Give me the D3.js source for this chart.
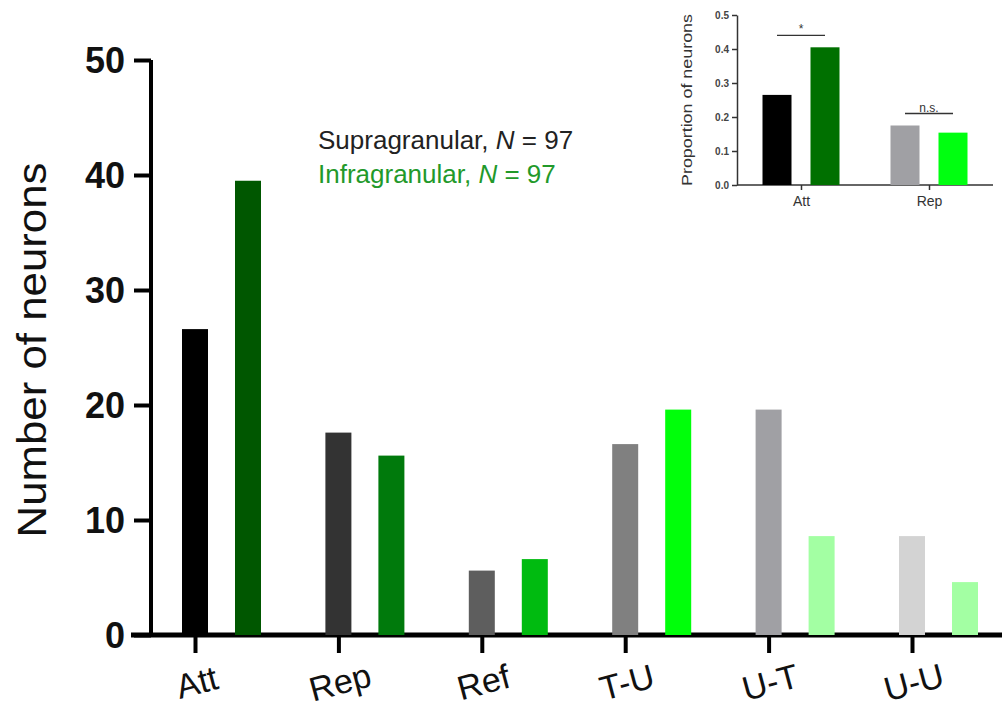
<!DOCTYPE html>
<html>
<head>
<meta charset="utf-8">
<script src="https://cdn.jsdelivr.net/npm/d3@7"></script>
<style>
body { margin: 0; background: #fff; }
svg { display: block; font-family: "Liberation Sans", Arial, sans-serif; }
</style>
</head>
<body>
<div id="chart"></div>
<script>
// main chart data (number of neurons per class)
var categories = ["Att", "Rep", "Ref", "T-U", "U-T", "U-U"]
var supraValues = [26.6, 17.6, 5.6, 16.6, 19.6, 8.6]
var infraValues = [39.5, 15.6, 6.6, 19.6, 8.6, 4.6]
var yTicks = [0, 10, 20, 30, 40, 50]
var supraColors = ["#000000", "#333333", "#5e5e5e", "#808080", "#a0a0a4", "#d3d3d3"]
var infraColors = ["#005700", "#007a0c", "#00bb10", "#00ff0a", "#a3ffa3", "#a3ffa3"]

// inset data (proportion of neurons)
var insetCategories = ["Att", "Rep"]
var insetSupra = [0.265, 0.175]
var insetInfra = [0.405, 0.154]
var insetTicks = [0.0, 0.1, 0.2, 0.3, 0.4, 0.5]
var insetSupraColors = ["#000000", "#a0a0a4"]
var insetInfraColors = ["#007000", "#00ff10"]
var insetMarks = ["*", "n.s."]

var width = 1002, height = 711
var svg = d3.select("#chart").append("svg").attr("width", width).attr("height", height)

// ---------- main chart ----------
var x = d3.scalePoint().domain(categories).range([195, 912])
var y = d3.scaleLinear().domain([0, 50]).range([635, 60])
var barW = 26, gap = 53

var yAxis = svg.append("g").attr("transform", "translate(151,0)")
	.call(d3.axisLeft(y).tickValues(yTicks).tickSize(17).tickPadding(9).tickSizeOuter(0))
yAxis.select(".domain").attr("stroke-width", 4).attr("d", "M0," + y(50) + "V" + y(0))
yAxis.selectAll(".tick line").attr("stroke-width", 4)
yAxis.selectAll(".tick text").style("font-size", "36px").style("font-weight", "bold")
	.attr("fill", "#111").attr("dy", "0.36em")

var xAxis = svg.append("g").attr("transform", "translate(0," + y(0) + ")")
	.call(d3.axisBottom(x).tickSize(18).tickFormat(""))
xAxis.select(".domain").remove()
xAxis.selectAll(".tick line").attr("stroke-width", 4)
svg.append("line").attr("x1", 131).attr("x2", width).attr("y1", y(0)).attr("y2", y(0))
	.attr("stroke", "#000").attr("stroke-width", 5)

categories.forEach(function(c, i) {
	svg.append("rect").attr("x", x(c) - barW / 2).attr("width", barW)
		.attr("y", y(supraValues[i])).attr("height", y(0) - y(supraValues[i]))
		.attr("fill", supraColors[i])
	svg.append("rect").attr("x", x(c) + gap - barW / 2).attr("width", barW)
		.attr("y", y(infraValues[i])).attr("height", y(0) - y(infraValues[i]))
		.attr("fill", infraColors[i])
	svg.append("text").text(c)
		.attr("x", x(c) + 2).attr("y", 694)
		.attr("text-anchor", "middle")
		.attr("transform", "rotate(-15," + (x(c) + 2) + ",683)")
		.style("font-size", "34px").attr("fill", "#111")
})

svg.append("text").text("Number of neurons")
	.attr("transform", "translate(46,350) rotate(-90)")
	.attr("text-anchor", "middle")
	.attr("textLength", 375).attr("lengthAdjust", "spacingAndGlyphs")
	.style("font-size", "40px").attr("fill", "#111")

// legend
var leg1 = svg.append("text").attr("x", 318).attr("y", 149).style("font-size", "26px").attr("fill", "#222")
leg1.append("tspan").text("Supragranular, ")
leg1.append("tspan").text("N").style("font-style", "italic")
leg1.append("tspan").text(" = 97")
var leg2 = svg.append("text").attr("x", 318).attr("y", 183).style("font-size", "26px").attr("fill", "#22992a")
leg2.append("tspan").text("Infragranular, ")
leg2.append("tspan").text("N").style("font-style", "italic")
leg2.append("tspan").text(" = 97")

// ---------- inset ----------
var ix = d3.scalePoint().domain(insetCategories).range([801, 929])
var iy = d3.scaleLinear().domain([0, 0.5]).range([185, 15])
var iBarW = 29, iOff = 24

var iyAxis = svg.append("g").attr("transform", "translate(737,0)")
	.call(d3.axisLeft(iy).tickValues(insetTicks).tickFormat(d3.format(".1f")).tickSize(5).tickPadding(3).tickSizeOuter(0))
iyAxis.select(".domain").attr("stroke-width", 1.5).attr("stroke", "#333")
iyAxis.selectAll(".tick line").attr("stroke-width", 1.5).attr("stroke", "#333")
iyAxis.selectAll(".tick text").style("font-size", "10px").style("font-weight", "bold").attr("fill", "#444")

var ixAxis = svg.append("g").attr("transform", "translate(0," + iy(0) + ")")
	.call(d3.axisBottom(ix).tickSize(5).tickPadding(6))
ixAxis.select(".domain").remove()
ixAxis.selectAll(".tick line").attr("stroke-width", 1.5).attr("stroke", "#333")
ixAxis.selectAll(".tick text").style("font-size", "14px").attr("fill", "#333")
svg.append("line").attr("x1", 737).attr("x2", 993).attr("y1", iy(0)).attr("y2", iy(0))
	.attr("stroke", "#333").attr("stroke-width", 1.5)

insetCategories.forEach(function(c, i) {
	svg.append("rect").attr("x", ix(c) - iOff - iBarW / 2).attr("width", iBarW)
		.attr("y", iy(insetSupra[i])).attr("height", iy(0) - iy(insetSupra[i]))
		.attr("fill", insetSupraColors[i])
	svg.append("rect").attr("x", ix(c) + iOff - iBarW / 2).attr("width", iBarW)
		.attr("y", iy(insetInfra[i])).attr("height", iy(0) - iy(insetInfra[i]))
		.attr("fill", insetInfraColors[i])
	var top = iy(Math.max(insetSupra[i], insetInfra[i])) - 12
	svg.append("line").attr("x1", ix(c) - iOff).attr("x2", ix(c) + iOff)
		.attr("y1", top).attr("y2", top).attr("stroke", "#333").attr("stroke-width", 1.3)
	svg.append("text").text(insetMarks[i]).attr("x", ix(c)).attr("y", top - 2)
		.attr("text-anchor", "middle").style("font-size", "12px").attr("fill", "#333")
})

svg.append("text").text("Proportion of neurons")
	.attr("transform", "translate(692,100) rotate(-90)")
	.attr("text-anchor", "middle")
	.attr("textLength", 172).attr("lengthAdjust", "spacingAndGlyphs")
	.style("font-size", "14px").attr("fill", "#333")
</script>
</body>
</html>
